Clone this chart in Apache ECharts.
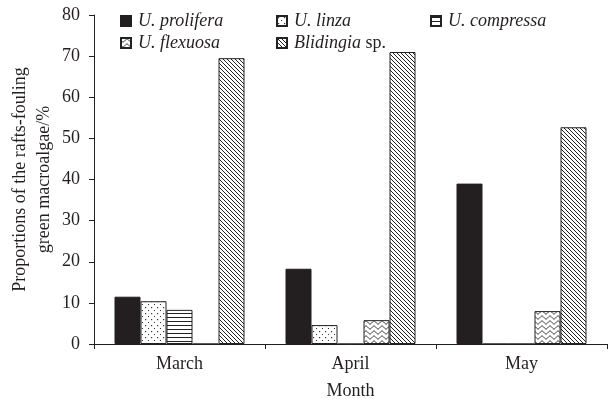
<!DOCTYPE html>
<html><head><meta charset="utf-8">
<script src="https://cdn.jsdelivr.net/npm/echarts@6/dist/echarts.min.js"></script>
<style>html,body{margin:0;padding:0;background:#fff}#c{width:611px;height:399px}</style>
</head><body><div id="c"></div>
<script>
var categories = ['March', 'April', 'May'];
var prolifera = [11.5, 18.3, 39.0];
var linza = [10.4, 4.6, 0];
var compressa = [8.3, 0, 0];
var flexuosa = [0, 5.8, 8.0];
var blidingia = [69.5, 71.0, 52.7];
var seriesNames = ['U. prolifera', 'U. linza', 'U. compressa', 'U. flexuosa', 'Blidingia sp.'];
var yTicks = [0, 10, 20, 30, 40, 50, 60, 70, 80];

function tile(w, h, draw) {
  var c = document.createElement('canvas');
  c.width = w; c.height = h;
  var g = c.getContext('2d');
  g.fillStyle = '#fff'; g.fillRect(0, 0, w, h);
  draw(g);
  return { image: c, repeat: 'repeat' };
}
var dotPat = tile(6, 6, function (g) { g.fillStyle = '#333'; g.fillRect(1, 1, 1.2, 1.2); g.fillRect(4, 4, 1, 1); });
var hLinePat = tile(4, 4, function (g) { g.fillStyle = '#222'; g.fillRect(0, 1, 4, 1); });
var wavePat = tile(8, 5, function (g) {
  g.strokeStyle = '#222'; g.lineWidth = 1; g.beginPath();
  for (var x = -1; x <= 9; x += 0.25) {
    var y = 2.5 + 1.5 * Math.sin(x / 8 * Math.PI * 2);
    if (x === -1) g.moveTo(x, y); else g.lineTo(x, y);
  }
  g.stroke();
});
var diagPat = tile(4, 4, function (g) {
  g.strokeStyle = '#222'; g.lineWidth = 1; g.beginPath();
  g.moveTo(-1, -1); g.lineTo(5, 5);
  g.moveTo(-1, 3); g.lineTo(1, 5);
  g.moveTo(3, -1); g.lineTo(5, 1);
  g.stroke();
});

var font = 'Liberation Serif';
var ink = '#231f20';
var styles = [
  { color: ink, borderColor: ink, borderWidth: 1 },
  { color: dotPat, borderColor: '#222', borderWidth: 1 },
  { color: hLinePat, borderColor: '#222', borderWidth: 1 },
  { color: wavePat, borderColor: '#222', borderWidth: 1 },
  { color: diagPat, borderColor: '#222', borderWidth: 1 }
];
var dataArr = [prolifera, linza, compressa, flexuosa, blidingia];

var series = seriesNames.map(function (n, i) {
  return {
    name: n, type: 'bar', data: dataArr[i], barWidth: 26, barGap: '0%',
    itemStyle: styles[i], emphasis: { disabled: true }
  };
});

function legendFmt(name) {
  if (name === 'Blidingia sp.') return '{i|Blidingia} sp.';
  return '{i|' + name + '}';
}
var legendBase = {
  orient: 'vertical', itemWidth: 10, itemHeight: 10, itemGap: 2, padding: 0, icon: 'rect',
  formatter: legendFmt, selectedMode: false,
  textStyle: { fontFamily: font, fontSize: 18, lineHeight: 20, color: ink, padding: [0, 0, 0, 2],
    rich: { i: { fontFamily: font, fontSize: 18, lineHeight: 20, fontStyle: 'italic', color: ink } } }
};
function leg(left, names) {
  return Object.assign({}, legendBase, { left: left, top: 11, data: names });
}

var chart = echarts.init(document.getElementById('c'), null, { renderer: 'canvas' });
chart.setOption({
  animation: false,
  backgroundColor: '#fff',
  legend: [
    leg(120, ['U. prolifera', 'U. flexuosa']),
    leg(276, ['U. linza', 'Blidingia sp.']),
    leg(430, ['U. compressa'])
  ],
  grid: { left: 94, right: 4, top: 15, bottom: 55, outerBoundsMode: 'none', containLabel: false },
  xAxis: {
    type: 'category', data: categories,
    name: 'Month', nameLocation: 'middle', nameGap: 38, nameMoveOverlap: false,
    nameTextStyle: { fontFamily: font, fontSize: 18, color: ink },
    axisLine: { lineStyle: { color: ink, width: 1 } },
    axisTick: { show: true, length: 5, lineStyle: { color: ink } },
    axisLabel: { fontFamily: font, fontSize: 18, color: ink, margin: 11 }
  },
  yAxis: {
    type: 'value', min: 0, max: 80, interval: 10,
    name: 'Proportions of the rafts-fouling\ngreen macroalgae/%',
    nameLocation: 'middle', nameGap: 38, nameMoveOverlap: false,
    nameTextStyle: { fontFamily: font, fontSize: 18, color: ink, lineHeight: 24 },
    axisLine: { show: true, lineStyle: { color: ink, width: 1 } },
    axisTick: { show: true, length: 5, lineStyle: { color: ink } },
    axisLabel: { fontFamily: font, fontSize: 18, color: ink, margin: 14 },
    splitLine: { show: false }
  },
  series: series
});
</script></body></html>
